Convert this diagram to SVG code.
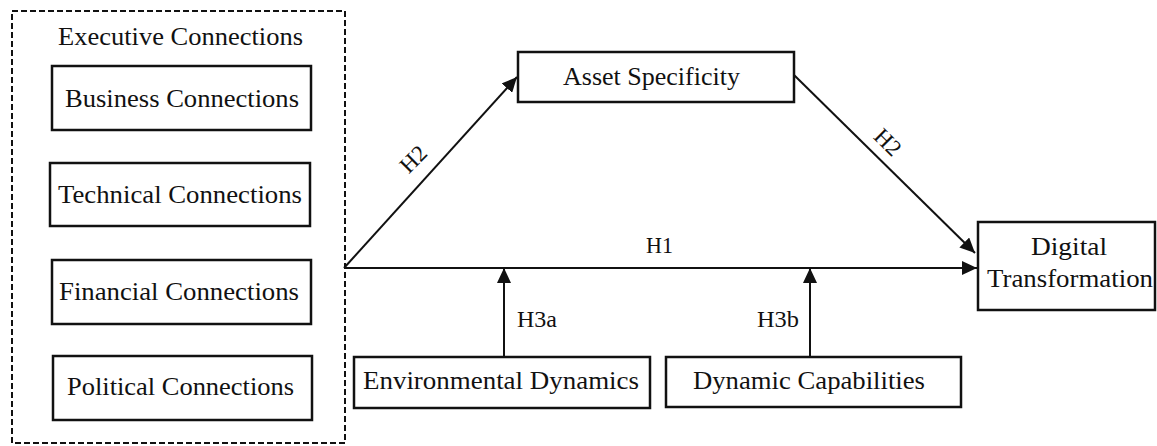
<svg xmlns="http://www.w3.org/2000/svg" width="1157" height="446" viewBox="0 0 1157 446">
<defs>
<style>
.box{fill:#fff;stroke:#111;stroke-width:2.5}
.lbl{font-family:"Liberation Serif","DejaVu Serif",serif;font-size:26px;fill:#111}
.h{font-family:"Liberation Serif","DejaVu Serif",serif;font-size:23px;fill:#111}
.edge{stroke:#111;stroke-width:2;fill:none;marker-end:url(#arrow)}
</style>
<marker id="arrow" markerUnits="userSpaceOnUse" markerWidth="16" markerHeight="14" refX="15" refY="7" orient="auto">
<path d="M0,0 L15,7 L0,14 z" fill="#111"/>
</marker>
</defs>
<rect width="1157" height="446" fill="#fff"/>
<g id="executive-connections">
<rect x="12" y="11" width="333" height="432" fill="none" stroke="#111" stroke-width="2" stroke-dasharray="6,3"/>
<text class="lbl" x="58" y="45" textLength="245" lengthAdjust="spacingAndGlyphs">Executive Connections</text>
</g>
<g id="business">
<rect class="box" x="52" y="66" width="259" height="64"/>
<text class="lbl" x="65" y="107" textLength="234" lengthAdjust="spacingAndGlyphs">Business Connections</text>
</g>
<g id="technical">
<rect class="box" x="50" y="163" width="260" height="63"/>
<text class="lbl" x="58" y="203" textLength="244" lengthAdjust="spacingAndGlyphs">Technical Connections</text>
</g>
<g id="financial">
<rect class="box" x="52" y="260" width="259" height="64"/>
<text class="lbl" x="59" y="300" textLength="240" lengthAdjust="spacingAndGlyphs">Financial Connections</text>
</g>
<g id="political">
<rect class="box" x="53" y="356" width="259" height="64"/>
<text class="lbl" x="67" y="395" textLength="227" lengthAdjust="spacingAndGlyphs">Political Connections</text>
</g>
<g id="asset-specificity">
<rect class="box" x="518" y="52" width="276" height="50"/>
<text class="lbl" x="563" y="85" textLength="177" lengthAdjust="spacingAndGlyphs">Asset Specificity</text>
</g>
<g id="digital-transformation">
<rect class="box" x="978" y="222" width="177" height="88"/>
<text class="lbl" x="1031" y="255" textLength="76" lengthAdjust="spacingAndGlyphs">Digital</text>
<text class="lbl" x="987" y="287" textLength="166" lengthAdjust="spacingAndGlyphs">Transformation</text>
</g>
<g id="environmental-dynamics">
<rect class="box" x="354" y="357" width="296" height="51"/>
<text class="lbl" x="363" y="389" textLength="276" lengthAdjust="spacingAndGlyphs">Environmental Dynamics</text>
</g>
<g id="dynamic-capabilities">
<rect class="box" x="666" y="357" width="295" height="50"/>
<text class="lbl" x="693" y="389" textLength="232" lengthAdjust="spacingAndGlyphs">Dynamic Capabilities</text>
</g>
<g id="connectors">
<line class="edge" x1="344" y1="268" x2="517" y2="77"/>
<line class="edge" x1="794" y1="75" x2="975" y2="253"/>
<line class="edge" x1="344" y1="268" x2="977" y2="268"/>
<line class="edge" x1="504" y1="357" x2="504" y2="268"/>
<line class="edge" x1="810" y1="357" x2="810" y2="268"/>
<text class="h" x="646" y="253" textLength="27" lengthAdjust="spacingAndGlyphs">H1</text>
<text class="h" x="517" y="327" textLength="40" lengthAdjust="spacingAndGlyphs">H3a</text>
<text class="h" x="757" y="327" textLength="42" lengthAdjust="spacingAndGlyphs">H3b</text>
<text class="h" text-anchor="middle" transform="translate(413,159) rotate(-45)" y="8">H2</text>
<text class="h" text-anchor="middle" transform="translate(888,142) rotate(45)" y="8">H2</text>
</g>
</svg>
